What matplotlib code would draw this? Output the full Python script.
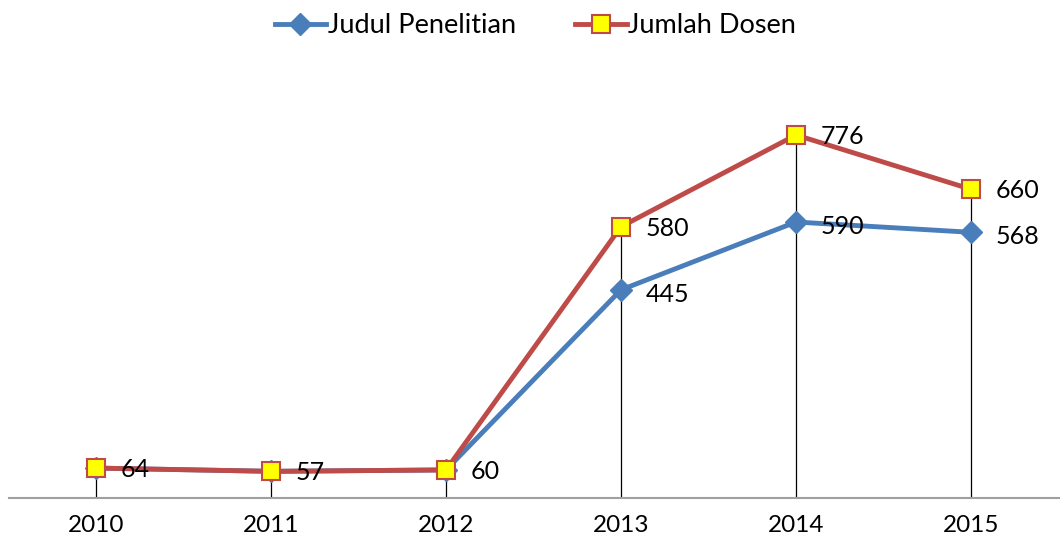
import numpy as np
import matplotlib.pyplot as plt

plt.rcParams['font.family'] = ['Lato', 'DejaVu Sans']

# Data
years = ['2010', '2011', '2012', '2013', '2014', '2015']
judul = [64, 57, 60, 445, 590, 568]
dosen = [64, 57, 60, 580, 776, 660]

blue = '#4A7EBB'
red = '#BE4B48'

fig = plt.figure(figsize=(10.6, 5.49), dpi=100)
ax = fig.add_axes([8.5 / 1060, 51 / 549, 1050 / 1060, 421 / 549])
x = np.arange(len(years))

# drop lines from the highest point to the axis
top = np.maximum(judul, dosen)
ax.vlines(x, 0, top, color='black', lw=0.9, zorder=1)

ax.plot(x, judul, color=blue, lw=3.5, marker='D', ms=11, mfc=blue, mec=blue,
        label='Judul Penelitian', zorder=2)
ax.plot(x, dosen, color=red, lw=3.5, marker='s', ms=13, mfc='#FFFF00', mec=red,
        mew=1.5, label='Jumlah Dosen', zorder=3)

# data labels
for i, v in enumerate(dosen):
    ax.annotate(str(v), (x[i], v), xytext=(18, -1), textcoords='offset points',
                ha='left', va='center', fontsize=18, color='black')
for i, v in enumerate(judul):
    if i < 3:
        continue
    ax.annotate(str(v), (x[i], v), xytext=(18, -3), textcoords='offset points',
                ha='left', va='center', fontsize=18, color='black')

ax.set_xlim(-0.5, len(years) - 0.5)
ax.set_ylim(0, 900)
ax.set_xticks(x)
ax.set_xticklabels(years, fontsize=17.5)
ax.tick_params(axis='x', length=0, pad=12)
ax.set_yticks([])
for s in ['top', 'right', 'left']:
    ax.spines[s].set_visible(False)
ax.spines['bottom'].set_color('#A0A0A0')
ax.spines['bottom'].set_linewidth(1.5)

fig.legend(loc='upper center', bbox_to_anchor=(0.505, 1.02), ncol=2, frameon=False,
           fontsize=19.5, handlelength=1.9, handletextpad=0.05, columnspacing=2.2)

fig.savefig('out.png', dpi=100)
